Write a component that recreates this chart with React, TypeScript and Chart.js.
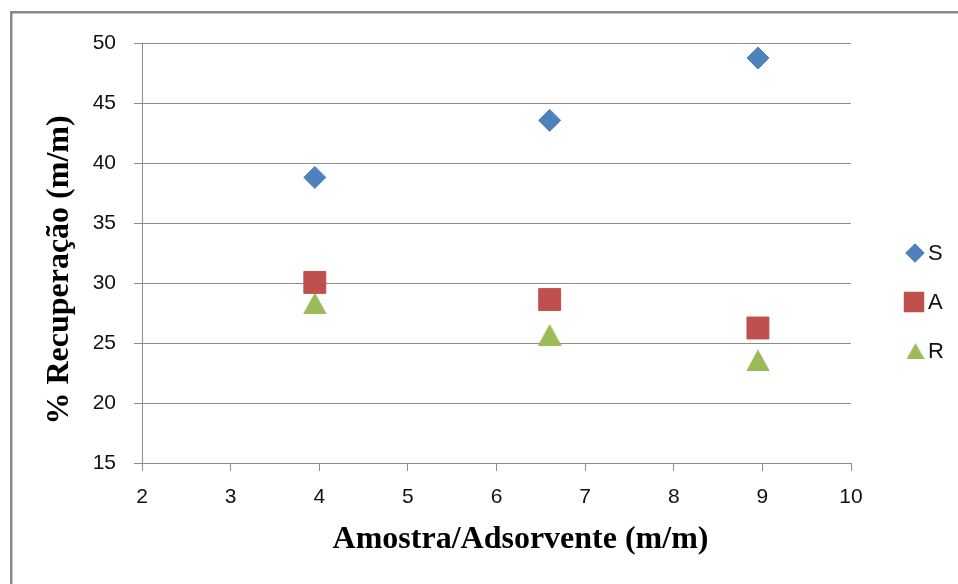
import React, { useEffect, useRef } from "react";
import { Chart, registerables } from "chart.js";
import { drawPoint } from "chart.js/helpers";

Chart.register(...registerables);

const xValues = [3.95, 6.6, 8.95];
const sValues = [38.8, 43.55, 48.75];
const aValues = [30.05, 28.62, 26.25];
const rValues = [28.3, 25.68, 23.55];
const seriesNames = ["S", "A", "R"];
const xTitle = "Amostra/Adsorvente (m/m)";
const yTitle = "% Recuperação (m/m)";

const BLUE = "#4F81BD";
const RED = "#C0504D";
const GREEN = "#9BBB59";

function triangleImage(w: number, h: number, color: string) {
  const c = document.createElement("canvas");
  c.width = w;
  c.height = h;
  const g = c.getContext("2d")!;
  g.fillStyle = color;
  g.beginPath();
  g.moveTo(w / 2, 0);
  g.lineTo(w, h);
  g.lineTo(0, h);
  g.closePath();
  g.fill();
  return c;
}

export default function App() {
  const ref = useRef<HTMLCanvasElement>(null);
  useEffect(() => {
    const tri = triangleImage(24, 22, GREEN);
    const triLegend = triangleImage(18, 16, GREEN);
    const pts = (ys: number[]) => xValues.map((x, i) => ({ x, y: ys[i] }));

    const decor = {
      id: "decor",
      beforeDraw(chart: any) {
        const ctx = chart.ctx;
        ctx.save();
        ctx.fillStyle = "#ffffff";
        ctx.fillRect(0, 0, chart.width, chart.height);
        ctx.restore();
      },
      afterDraw(chart: any) {
        const ctx = chart.ctx;
        ctx.save();
        ctx.strokeStyle = "#8a8a8a";
        ctx.lineWidth = 2.5;
        ctx.strokeRect(11.25, 12.25, 1000, 1000);
        ctx.fillStyle = "#000000";
        ctx.font = "bold 32px 'Liberation Serif', 'Times New Roman', serif";
        ctx.textAlign = "center";
        ctx.textBaseline = "alphabetic";
        ctx.fillText(xTitle, 520.5, 548);
        ctx.save();
        ctx.translate(68, 270);
        ctx.rotate(-Math.PI / 2);
        ctx.fillText(yTitle, 0, 0);
        ctx.restore();
        const ds = chart.data.datasets;
        const ly = [253, 302, 351];
        ctx.font = "22px 'Liberation Sans', Arial, sans-serif";
        ctx.textAlign = "left";
        ctx.textBaseline = "middle";
        ctx.fillStyle = BLUE;
        ctx.strokeStyle = BLUE;
        drawPoint(ctx, { pointStyle: "rectRot", radius: 8, rotation: 0, borderWidth: 1 }, 915, ly[0]);
        ctx.fillStyle = RED;
        ctx.strokeStyle = RED;
        drawPoint(ctx, { pointStyle: "rect", radius: 12.7, rotation: 0, borderWidth: 1 }, 914, ly[1]);
        ctx.drawImage(triLegend, 915.5 - 9, ly[2] - 8);
        ctx.fillStyle = "#111111";
        for (let i = 0; i < ds.length; i++) {
          ctx.fillText(ds[i].label, 928, ly[i] + 1);
        }
        ctx.restore();
      },
    };

    const chart = new Chart(ref.current!, {
      type: "scatter",
      data: {
        datasets: [
          {
            label: seriesNames[0],
            data: pts(sValues),
            pointStyle: "rectRot",
            pointRadius: 11,
            backgroundColor: BLUE,
            borderColor: BLUE,
            borderWidth: 1,
          },
          {
            label: seriesNames[1],
            data: pts(aValues),
            pointStyle: "rect",
            pointRadius: 15.5,
            backgroundColor: RED,
            borderColor: RED,
            borderWidth: 1,
          },
          {
            label: seriesNames[2],
            data: pts(rValues),
            pointStyle: tri as any,
            pointRadius: 12,
            backgroundColor: GREEN,
            borderColor: GREEN,
            borderWidth: 1,
          },
        ],
      },
      options: {
        responsive: false,
        animation: false,
        layout: { padding: { top: 43, right: 107, bottom: 0, left: 0 } },
        plugins: { legend: { display: false }, tooltip: { enabled: false } },
        scales: {
          x: {
            type: "linear",
            min: 2,
            max: 10,
            ticks: {
              stepSize: 1,
              padding: 14,
              color: "#111111",
              font: { family: "'Liberation Sans', Arial, sans-serif", size: 21 },
            },
            grid: { drawOnChartArea: false, drawTicks: true, tickLength: 8, color: "#8c8c8c" },
            border: { display: true, color: "#8c8c8c" },
            afterFit: (s: any) => {
              s.height = 121;
            },
          },
          y: {
            type: "linear",
            min: 15,
            max: 50,
            ticks: {
              stepSize: 5,
              padding: 18,
              color: "#111111",
              font: { family: "'Liberation Sans', Arial, sans-serif", size: 21 },
            },
            grid: { drawOnChartArea: true, drawTicks: true, tickLength: 8, color: "#8c8c8c" },
            border: { display: true, color: "#8c8c8c" },
            afterFit: (s: any) => {
              s.width = 142;
            },
          },
        },
      },
      plugins: [decor],
    });
    return () => chart.destroy();
  }, []);

  return (
    <div style={{ position: "absolute", left: 0, top: 0, width: 958, height: 584 }}>
      <canvas ref={ref} width={958} height={584} style={{ display: "block", width: 958, height: 584 }} />
    </div>
  );
}
